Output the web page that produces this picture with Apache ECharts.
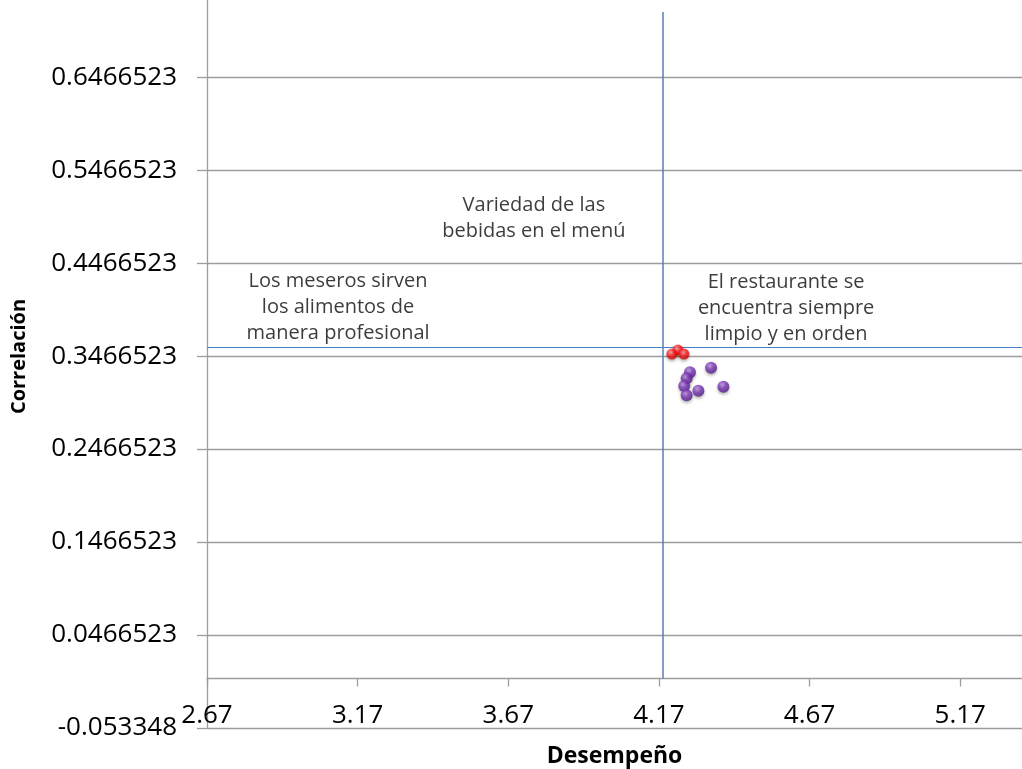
<!DOCTYPE html>
<html>
<head>
<meta charset="utf-8">
<script src="https://cdn.jsdelivr.net/npm/echarts@6/dist/echarts.min.js"></script>
<style>html,body{margin:0;padding:0;background:#fff}#c{width:1022px;height:769px}</style>
</head>
<body>
<div id="c"></div>
<script>
// ---- data ----
const xTickLabels = ["2.67", "3.17", "3.67", "4.17", "4.67", "5.17"];
const yTickLabels = ["-0.053348", "0.0466523", "0.1466523", "0.2466523", "0.3466523", "0.4466523", "0.5466523", "0.6466523", "0.7466523"];
const redDesempeno = [4.233, 4.213, 4.253];
const redCorrelacion = [0.3536, 0.3493, 0.3493];
const purpleDesempeno = [4.273, 4.343, 4.262, 4.254, 4.301, 4.384, 4.262];
const purpleCorrelacion = [0.3297, 0.3346, 0.3232, 0.3149, 0.3099, 0.3142, 0.3049];
const meanDesempeno = 4.183;
const meanCorrelacion = 0.3569;
const verticalTop = 0.7176;
const noteTexts = ["Variedad de las\nbebidas en el menú", "Los meseros sirven\nlos alimentos de\nmanera profesional", "El restaurante se\nencuentra siempre\nlimpio y en orden"];
const noteDesempeno = [3.755, 3.105, 4.592];
const noteCorrelacion = [0.4958, 0.4000, 0.3989];

const FONT = "'Open Sans', 'DejaVu Sans', sans-serif";
const xMin = 2.67, xMax = 5.375, yMin = -0.0533477, yMax = 0.7466523;
const W = 1022, H = 769;
const gridLeft = 207, gridTop = -15, gridBottom = 41;
const plotH = H - gridTop - gridBottom;
// x axis crosses the vertical axis at y = 0
const xAxisOffset = -((0 - yMin) / (yMax - yMin)) * plotH;

const zip = (a, b) => a.map((v, i) => [v, b[i]]);

const chart = echarts.init(document.getElementById('c'), null, {renderer: 'canvas'});
chart.setOption({
  animation: false,
  backgroundColor: '#ffffff',
  grid: {left: gridLeft, right: 0, top: gridTop, bottom: gridBottom, containLabel: false, outerBoundsMode: 'none'},
  xAxis: {
    type: 'value', min: xMin, max: xMax, interval: 0.5,
    position: 'bottom', offset: xAxisOffset,
    name: 'Desempeño', nameLocation: 'middle', nameGap: 66,
    nameTextStyle: {fontFamily: FONT, fontWeight: 'bold', fontSize: 23, color: '#000'},
    axisLine: {show: true, onZero: false, lineStyle: {color: '#9d9d9d', width: 1.3}},
    axisTick: {show: true, length: 8, lineStyle: {color: '#9d9d9d', width: 1.3}},
    axisLabel: {
      margin: 24, fontFamily: FONT, fontSize: 26, color: '#000', showMaxLabel: false,
      formatter: (v, i) => xTickLabels[i] !== undefined ? xTickLabels[i] : ''
    },
    splitLine: {show: false}
  },
  yAxis: {
    type: 'value', min: yMin, max: yMax, interval: 0.1,
    name: 'Correlación', nameLocation: 'middle', nameGap: 178, nameRotate: 90,
    nameTextStyle: {fontFamily: FONT, fontWeight: 'bold', fontSize: 20, color: '#000'},
    axisLine: {show: true, onZero: false, lineStyle: {color: '#9d9d9d', width: 1.3}},
    axisTick: {show: true, length: 10, lineStyle: {color: '#9d9d9d', width: 1.3}},
    axisLabel: {
      margin: 30, fontFamily: FONT, fontSize: 26, color: '#000',
      formatter: (v, i) => yTickLabels[i] !== undefined ? yTickLabels[i] : ''
    },
    splitLine: {show: true, lineStyle: {color: '#9d9d9d', width: 1.3}}
  },
  series: [
    {
      type: 'scatter', name: 'notes', symbolSize: 0, silent: true,
      data: noteTexts.map((t, i) => ({value: [noteDesempeno[i], noteCorrelacion[i]], text: t})),
      label: {
        show: true, position: 'inside', fontFamily: FONT, fontSize: 20, lineHeight: 26,
        color: '#0a0a0a', align: 'center', verticalAlign: 'middle',
        formatter: p => p.data.text
      },
      markLine: {
        silent: true, symbol: 'none', label: {show: false},
        lineStyle: {color: '#4a7ec0', width: 1.2, type: 'solid'},
        data: [
          [{coord: [xMin, meanCorrelacion], lineStyle: {color: '#4a7ec0', width: 1.2, type: 'solid'}},
           {coord: [xMax, meanCorrelacion]}],
          [{coord: [meanDesempeno, 0], lineStyle: {color: '#5a7fb5', width: 1.5, type: 'solid'}},
           {coord: [meanDesempeno, verticalTop]}]
        ]
      }
    },
    {
      type: 'scatter', name: 'red', symbolSize: 11, z: 5,
      data: zip(redDesempeno, redCorrelacion),
      itemStyle: {
        color: {type: 'radial', x: 0.4, y: 0.35, r: 0.7,
          colorStops: [{offset: 0, color: '#ff9a9a'}, {offset: 0.45, color: '#ff1a1a'}, {offset: 1, color: '#c80000'}]},
        shadowBlur: 3, shadowColor: 'rgba(0,0,0,0.35)', shadowOffsetY: 2
      }
    },
    {
      type: 'scatter', name: 'purple', symbolSize: 12, z: 4,
      data: zip(purpleDesempeno, purpleCorrelacion),
      itemStyle: {
        color: {type: 'radial', x: 0.4, y: 0.35, r: 0.7,
          colorStops: [{offset: 0, color: '#b994e0'}, {offset: 0.45, color: '#7a35b5'}, {offset: 1, color: '#4e1a80'}]},
        shadowBlur: 3, shadowColor: 'rgba(0,0,0,0.35)', shadowOffsetY: 2
      }
    }
  ]
});
</script>
</body>
</html>
